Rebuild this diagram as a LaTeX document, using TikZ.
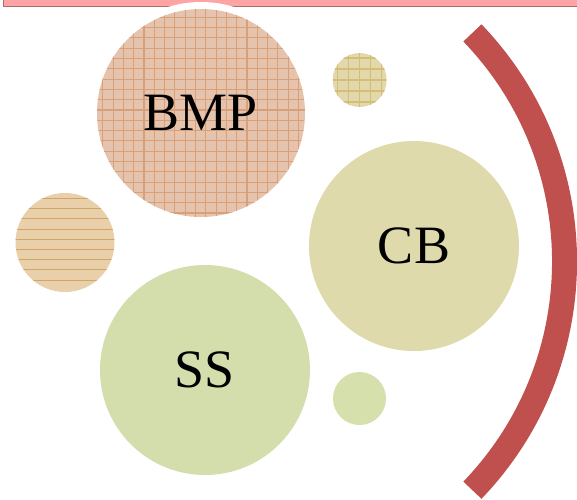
\documentclass[tikz,border=0pt]{standalone}
\usepackage{fontspec}
\setmainfont{Liberation Serif}
\definecolor{barpink}{RGB}{255,164,164}
\definecolor{barline}{RGB}{170,110,110}
\definecolor{bmpfill}{RGB}{230,195,172}
\definecolor{bmpline}{RGB}{216,160,120}
\definecolor{topfill}{RGB}{226,216,172}
\definecolor{topline}{RGB}{210,190,118}
\definecolor{leftfill}{RGB}{233,208,170}
\definecolor{leftline}{RGB}{206,166,106}
\definecolor{cbfill}{RGB}{222,218,172}
\definecolor{ssfill}{RGB}{212,222,172}
\definecolor{smallfill}{RGB}{213,224,172}
\definecolor{arcred}{RGB}{192,80,77}
\begin{document}
\begin{tikzpicture}[x=1pt,y=-1pt,
  bubble/.style={circle, inner sep=0pt, minimum size=#1, font=\fontsize{54}{60}\selectfont},
  gridfill/.style 2 args={path picture={\draw[#1, line width=1.1pt, step=#2]
     (path picture bounding box.south west) grid (path picture bounding box.north east);}},
  stripefill/.style={path picture={\foreach \k in {-44,-33.8,...,46}
     {\draw[#1, line width=0.9pt] (-60,\k) -- (60,\k);}}},
  redarc/.style={draw=arcred, line width=25pt, line cap=butt}]
\useasboundingbox (0,0) rectangle (577,499);
% top bar
\path[fill=barpink, draw=barline, line width=1pt] (3.5,-5) rectangle (582,6.5);
% white halo behind BMP
\node[circle, fill=white, minimum size=222pt, inner sep=0pt] (halo) at (201,113) {};
% bubbles
\node[bubble=208pt, fill=bmpfill, gridfill={bmpline}{10.3pt}] (bmp) at (201,113) {BMP};
\node[bubble=54pt, fill=topfill, gridfill={topline}{11pt}] (small1) at (359.7,80) {};
\node[bubble=99pt, fill=leftfill, stripefill=leftline] (left) at (65,242.5) {};
\node[bubble=210pt, fill=cbfill] (cb) at (414,246) {CB};
\node[bubble=210pt, fill=ssfill] (ss) at (205,370) {SS};
\node[bubble=53pt, fill=smallfill] (small2) at (359.5,398.5) {};
% red arc
\coordinate (arcTop) at (472.4,32.9);
\draw[redarc] (arcTop) arc[start angle=-43.9, end angle=43.9, radius=329.75];
\end{tikzpicture}
\end{document}
